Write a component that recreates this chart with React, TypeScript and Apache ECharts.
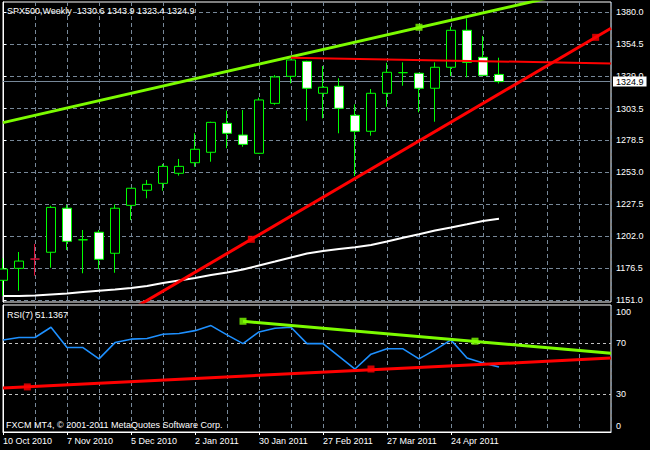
import { useEffect, useRef } from 'react';
import * as echarts from 'echarts';

// ---------- data ----------
const dates = [
  '10 Oct 2010', '17 Oct 2010', '24 Oct 2010', '31 Oct 2010', '7 Nov 2010', '14 Nov 2010',
  '21 Nov 2010', '28 Nov 2010', '5 Dec 2010', '12 Dec 2010', '19 Dec 2010', '26 Dec 2010',
  '2 Jan 2011', '9 Jan 2011', '16 Jan 2011', '23 Jan 2011', '30 Jan 2011', '6 Feb 2011',
  '13 Feb 2011', '20 Feb 2011', '27 Feb 2011', '6 Mar 2011', '13 Mar 2011', '20 Mar 2011',
  '27 Mar 2011', '3 Apr 2011', '10 Apr 2011', '17 Apr 2011', '24 Apr 2011', '1 May 2011',
  '8 May 2011', '15 May 2011', '22 May 2011', '29 May 2011', '5 Jun 2011', '12 Jun 2011',
  '19 Jun 2011', '26 Jun 2011', '3 Jul 2011',
];

const opens = [
  1166.9, 1176.4, 1183.8, 1189.2, 1224.2, 1199.1, 1205.1, 1188.4, 1226.5, 1238.5,
  1244.0, 1252.0, 1260.4, 1268.7, 1291.7, 1282.4, 1267.9, 1307.6, 1329.1, 1341.0,
  1315.6, 1321.2, 1298.1, 1285.4, 1315.6, 1332.0, 1331.5, 1319.6, 1336.3, 1365.7,
  1344.2, 1330.6,
];
const highs = [
  1184.4, 1189.4, 1195.8, 1226.2, 1226.8, 1206.9, 1206.9, 1227.3, 1240.3, 1246.7,
  1259.4, 1263.4, 1283.8, 1293.0, 1301.8, 1302.3, 1312.1, 1330.1, 1342.5, 1341.5,
  1337.3, 1327.5, 1306.8, 1319.0, 1339.9, 1340.2, 1331.8, 1340.2, 1368.6, 1375.2,
  1361.2, 1343.9,
];
const lows = [
  1154.5, 1158.6, 1170.6, 1176.9, 1191.0, 1172.5, 1175.7, 1172.9, 1214.8, 1232.1,
  1238.1, 1250.1, 1257.2, 1261.2, 1271.9, 1273.1, 1267.5, 1306.5, 1323.5, 1293.8,
  1295.7, 1283.8, 1249.8, 1281.9, 1304.9, 1321.6, 1300.5, 1293.0, 1329.3, 1328.3,
  1329.5, 1323.4,
];
const closes = [
  1175.9, 1182.2, 1183.8, 1224.9, 1197.9, 1199.1, 1183.6, 1224.2, 1240.1, 1243.2,
  1257.5, 1257.5, 1271.1, 1292.5, 1283.8, 1275.0, 1310.3, 1328.6, 1342.1, 1319.6,
  1320.4, 1303.7, 1285.4, 1315.6, 1332.3, 1332.0, 1319.6, 1336.3, 1365.7, 1340.2,
  1329.9, 1324.9,
];
const highlightedBar = 2;

const movingAverage = [
  1154.4, 1154.4, 1154.8, 1155.6, 1156.4, 1157.6, 1158.6, 1159.6, 1160.8, 1162.4,
  1164.7, 1166.7, 1168.7, 1171.1, 1173.1, 1175.5, 1178.7, 1181.8, 1185.0, 1188.2,
  1190.2, 1191.8, 1193.1, 1195.0, 1197.8, 1200.8, 1203.5, 1206.5, 1208.9, 1211.4,
  1214.1, 1215.9,
];

const rsiValues = [
  72.5, 74.4, 74.4, 82.5, 66.5, 66.5, 57.6, 70.4, 73.1, 73.6,
  77.0, 77.5, 79.8, 83.8, 76.5, 69.6, 78.8, 81.7, 82.5, 69.6,
  69.6, 59.6, 49.6, 61.3, 65.5, 65.5, 57.6, 64.7, 72.5, 58.2,
  54.3, 51.1367,
];

const priceTicks = [1151.0, 1176.5, 1202.0, 1227.5, 1253.0, 1278.5, 1303.5, 1329.0, 1354.5, 1380.0];
const rsiTicks = [0, 30, 70, 100];
const rsiLevels = [30, 70];
const bidPrice = 1324.9;

// trend lines: [bar index, value]
const mainGreenTrend = [[0, 1292.3], [38, 1402.8]];
const mainGreenAnchors = [[26, 1368.1]];
const mainRedTrend = [[0, 1083.7], [38, 1367.3]];
const mainRedAnchors = [[15.52, 1199.5], [37.04, 1360.1]];
const mainRedFlat = [[18, 1343.9], [38, 1339.3]];
const rsiGreenTrend = [[15, 87.2], [38, 62.1]];
const rsiGreenAnchors = [[15, 87.2], [29.5, 71.5]];
const rsiRedTrend = [[0, 34.7], [38, 58.2]];
const rsiRedAnchors = [[1.52, 35.5], [23, 49.6]];

// ---------- styles ----------
const FONT = '"Liberation Sans", Arial, sans-serif';
const FS = 9;
const CANDLE = '#00ff00';
const LIME = '#7cfc00';
const RED = '#ff0000';
const CRIMSON = '#dc143c';
const GRID = '#778899';
const LEVEL = '#c0c0c0';
const WHITE = '#ffffff';

const Y_MIN = 1149.65;
const Y_MAX = 1388.19;
const X_SLOTS = dates.length - 1;

function buildOption() {
  const candleData = opens.map((o, i) => {
    const v = [o, closes[i], lows[i], highs[i]];
    if (i === highlightedBar) {
      return {
        value: v,
        itemStyle: {
          color: CRIMSON, color0: CRIMSON,
          borderColor: CRIMSON, borderColor0: CRIMSON, borderColorDoji: CRIMSON,
        },
      };
    }
    return v;
  });
  const nBars = opens.length;
  const labelShown = (idx: number) => idx % 4 === 0 && idx < nBars;

  const lineSeries = (data: number[][], color: string, width: number, xi: number, yi: number) => ({
    type: 'line', xAxisIndex: xi, yAxisIndex: yi, data, symbol: 'none',
    lineStyle: { color, width }, itemStyle: { color }, z: 4, silent: true, clip: true,
  });
  const anchorSeries = (data: number[][], color: string, xi: number, yi: number) => ({
    type: 'scatter', xAxisIndex: xi, yAxisIndex: yi, data, symbol: 'rect', symbolSize: 7,
    itemStyle: { color }, z: 5, silent: true,
  });

  return {
    backgroundColor: '#000000',
    animation: false,
    textStyle: { fontFamily: FONT, fontSize: FS, color: WHITE },
    title: [
      {
        text: `SPX500,Weekly  ${opens[nBars - 1].toFixed(1)} ${highs[nBars - 1].toFixed(1)} ${lows[nBars - 1].toFixed(1)} ${closes[nBars - 1].toFixed(1)}`,
        left: 7, top: 6, padding: 0,
        textStyle: { color: WHITE, fontSize: FS, fontWeight: 'normal', fontFamily: FONT, lineHeight: 10 },
      },
      {
        text: `RSI(7) ${rsiValues[nBars - 1].toFixed(4)}`,
        left: 7, top: 310, padding: 0,
        textStyle: { color: WHITE, fontSize: FS, fontWeight: 'normal', fontFamily: FONT, lineHeight: 10 },
      },
      {
        text: 'FXCM MT4, © 2001-2011 MetaQuotes Software Corp.',
        left: 6, top: 420, padding: 0,
        textStyle: { color: WHITE, fontSize: FS, fontWeight: 'normal', fontFamily: FONT, lineHeight: 10 },
      },
    ],
    grid: [
      { left: 3, right: 39, top: 2, height: 300, show: true, borderColor: WHITE, borderWidth: 1, backgroundColor: 'transparent', outerBoundsMode: 'none' },
      { left: 3, right: 39, top: 305, height: 127, show: true, borderColor: WHITE, borderWidth: 1, backgroundColor: 'transparent', outerBoundsMode: 'none' },
    ],
    xAxis: [
      {
        type: 'category', gridIndex: 0, data: dates, boundaryGap: false,
        axisLine: { show: false }, axisTick: { show: false }, axisLabel: { show: false },
        splitLine: { show: true, interval: 1, lineStyle: { color: GRID, type: [4, 3], width: 1 } },
      },
      { type: 'value', gridIndex: 0, min: 0, max: X_SLOTS, show: false },
      {
        type: 'category', gridIndex: 1, data: dates, boundaryGap: false,
        axisLine: { show: true, lineStyle: { color: WHITE, width: 1 } },
        axisTick: { show: true, interval: (i: number) => labelShown(i), length: 3, lineStyle: { color: WHITE } },
        axisLabel: {
          show: true, interval: (i: number) => labelShown(i), align: 'left', margin: 4,
          color: WHITE, fontSize: FS, fontFamily: FONT,
        },
        splitLine: { show: true, interval: 1, lineStyle: { color: GRID, type: [4, 3], width: 1 } },
      },
      { type: 'value', gridIndex: 1, min: 0, max: X_SLOTS, show: false },
    ],
    yAxis: [
      {
        type: 'value', gridIndex: 0, position: 'right', min: Y_MIN, max: Y_MAX,
        axisLine: { show: true, lineStyle: { color: WHITE, width: 1 } },
        axisTick: { show: true, length: 3, customValues: priceTicks, lineStyle: { color: WHITE } },
        axisLabel: {
          show: true, customValues: priceTicks, margin: 5, color: WHITE, fontSize: FS, fontFamily: FONT,
          formatter: (v: number) => v.toFixed(1),
        },
        splitLine: { show: true, lineStyle: { color: GRID, type: [4, 3], width: 1 } },
      },
      {
        type: 'value', gridIndex: 1, position: 'right', min: 0, max: 100,
        axisLine: { show: true, lineStyle: { color: WHITE, width: 1 } },
        axisTick: { show: true, length: 3, customValues: rsiLevels, lineStyle: { color: WHITE } },
        axisLabel: {
          show: true, customValues: rsiTicks, margin: 5, color: WHITE, fontSize: FS, fontFamily: FONT,
          formatter: (v: number) => (v === 100 ? '{t|100}' : v === 0 ? '{b|0}' : String(v)),
          rich: {
            t: { color: WHITE, fontSize: FS, fontFamily: FONT, padding: [14, 0, 0, 0] },
            b: { color: WHITE, fontSize: FS, fontFamily: FONT, padding: [0, 0, 13, 0] },
          },
        },
        splitLine: { show: true, lineStyle: { color: LEVEL, type: [3, 3], width: 1 } },
      },
    ],
    series: [
      {
        type: 'candlestick', xAxisIndex: 0, yAxisIndex: 0, data: candleData, barWidth: 9, z: 3,
        itemStyle: {
          color: '#000000', color0: WHITE, borderColor: CANDLE, borderColor0: CANDLE,
          borderColorDoji: CANDLE, borderWidth: 1,
        },
        clip: true, silent: true,
        markLine: {
          silent: true, symbol: 'none', z: 2,
          data: [{ yAxis: bidPrice }],
          lineStyle: { color: GRID, type: 'solid', width: 1 },
          label: {
            show: true, position: 'end', distance: 2, formatter: bidPrice.toFixed(1),
            color: '#000000', backgroundColor: WHITE, padding: [1, 3, 0, 3],
            fontSize: FS, fontFamily: FONT,
          },
        },
      },
      {
        type: 'line', xAxisIndex: 0, yAxisIndex: 0, data: movingAverage, symbol: 'none',
        lineStyle: { color: WHITE, width: 2 }, z: 2, silent: true,
      },
      lineSeries(mainGreenTrend, LIME, 3, 1, 0),
      lineSeries(mainRedTrend, RED, 3, 1, 0),
      lineSeries(mainRedFlat, RED, 2, 1, 0),
      anchorSeries(mainGreenAnchors, LIME, 1, 0),
      anchorSeries(mainRedAnchors, RED, 1, 0),
      {
        type: 'line', xAxisIndex: 2, yAxisIndex: 1, data: rsiValues, symbol: 'none',
        lineStyle: { color: '#1e90ff', width: 1.6 }, z: 3, silent: true,
      },
      lineSeries(rsiGreenTrend, LIME, 3, 3, 1),
      lineSeries(rsiRedTrend, RED, 3, 3, 1),
      anchorSeries(rsiGreenAnchors, LIME, 3, 1),
      anchorSeries(rsiRedAnchors, RED, 3, 1),
    ],
  };
}

export default function App() {
  const ref = useRef<HTMLDivElement>(null);
  useEffect(() => {
    document.body.style.margin = '0';
    document.body.style.background = '#000';
    const chart = echarts.init(ref.current!, undefined, { renderer: 'svg' });
    chart.setOption(buildOption() as any);
    return () => chart.dispose();
  }, []);
  return <div ref={ref} style={{ width: 650, height: 450, background: '#000' }} />;
}
